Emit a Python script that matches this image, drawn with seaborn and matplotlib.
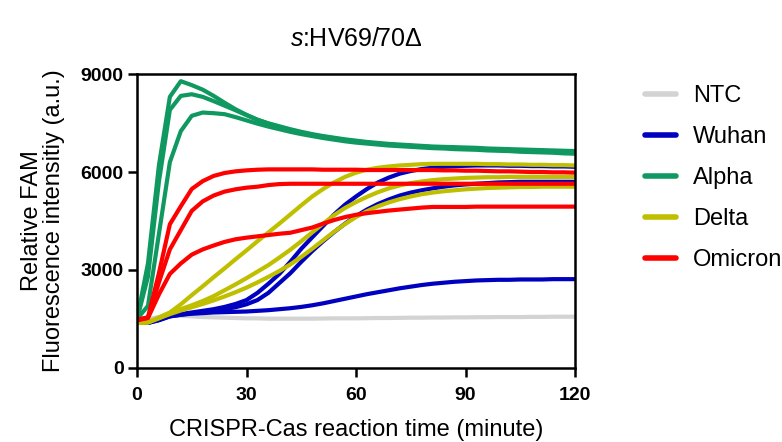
import numpy as np
import pandas as pd
import matplotlib
matplotlib.use("Agg")
import matplotlib.pyplot as plt
import seaborn as sns

# ---------------- data ----------------
time = list(range(0, 121, 3))

ntc = [1480, 1500, 1560, 1600, 1600, 1580, 1560, 1550, 1540, 1530, 1520, 1520, 1510, 1510,
       1510, 1510, 1510, 1515, 1520, 1520, 1520, 1525, 1530, 1530, 1535, 1540, 1540, 1545,
       1545, 1550, 1550, 1555, 1555, 1560, 1560, 1560, 1565, 1565, 1570, 1570, 1570]

wuhan_1 = [1450, 1400, 1480, 1600, 1650, 1700, 1750, 1800, 1870, 1960, 2080, 2300, 2580, 2880,
           3250, 3650, 4000, 4350, 4700, 5000, 5250, 5480, 5680, 5830, 5950, 6030, 6090, 6130,
           6160, 6180, 6190, 6200, 6200, 6200, 6190, 6190, 6180, 6180, 6170, 6170, 6160]
wuhan_2 = [1420, 1380, 1460, 1580, 1630, 1680, 1720, 1760, 1800, 1860, 1950, 2080, 2300, 2600,
           2900, 3250, 3580, 3880, 4160, 4420, 4650, 4850, 5020, 5160, 5280, 5370, 5440, 5500,
           5550, 5590, 5620, 5640, 5660, 5680, 5690, 5700, 5700, 5700, 5700, 5700, 5700]
wuhan_3 = [1430, 1380, 1470, 1580, 1630, 1660, 1680, 1700, 1710, 1720, 1730, 1750, 1770, 1800,
           1830, 1870, 1920, 1980, 2050, 2120, 2190, 2260, 2320, 2380, 2440, 2490, 2540, 2580,
           2610, 2640, 2660, 2680, 2690, 2700, 2700, 2710, 2710, 2710, 2720, 2720, 2720]

alpha_1 = [1500, 3200, 6200, 8300, 8780, 8660, 8520, 8330, 8120, 7920, 7750, 7600, 7490, 7400,
           7310, 7230, 7160, 7100, 7050, 7000, 6960, 6920, 6890, 6860, 6840, 6820, 6800, 6780,
           6770, 6760, 6750, 6740, 6720, 6710, 6700, 6690, 6680, 6670, 6660, 6650, 6640]
alpha_2 = [1480, 2800, 5700, 7900, 8330, 8380, 8300, 8170, 8030, 7890, 7740, 7600, 7480, 7380,
           7290, 7210, 7140, 7080, 7030, 6980, 6940, 6900, 6870, 6840, 6820, 6800, 6780, 6760,
           6750, 6740, 6720, 6710, 6690, 6680, 6670, 6660, 6650, 6640, 6630, 6610, 6600]
alpha_3 = [1500, 1900, 4100, 6300, 7250, 7720, 7820, 7800, 7770, 7680, 7580, 7480, 7390, 7310,
           7230, 7160, 7100, 7040, 6990, 6940, 6900, 6870, 6840, 6810, 6790, 6770, 6750, 6730,
           6720, 6700, 6690, 6680, 6660, 6650, 6640, 6620, 6610, 6600, 6590, 6570, 6560]

delta_1 = [1400, 1400, 1550, 1700, 1950, 2230, 2500, 2780, 3050, 3330, 3600, 3880, 4150, 4420,
           4700, 4980, 5250, 5480, 5680, 5850, 5980, 6070, 6130, 6170, 6200, 6220, 6240, 6250,
           6250, 6250, 6250, 6250, 6240, 6240, 6230, 6230, 6220, 6220, 6210, 6210, 6200]
delta_2 = [1380, 1400, 1530, 1670, 1800, 1920, 2050, 2200, 2380, 2560, 2750, 2950, 3150, 3380,
           3620, 3880, 4150, 4420, 4680, 4900, 5080, 5240, 5380, 5500, 5590, 5660, 5710, 5750,
           5780, 5800, 5820, 5830, 5840, 5840, 5850, 5850, 5850, 5850, 5850, 5850, 5850]
delta_3 = [1380, 1390, 1520, 1650, 1760, 1860, 1960, 2070, 2190, 2320, 2460, 2620, 2790, 2970,
           3170, 3400, 3650, 3910, 4170, 4410, 4620, 4800, 4950, 5070, 5170, 5250, 5320, 5370,
           5410, 5440, 5470, 5490, 5510, 5520, 5530, 5540, 5540, 5550, 5550, 5550, 5550]

omicron_1 = [1480, 1550, 2900, 4400, 4950, 5480, 5720, 5880, 5970, 6020, 6050, 6070, 6080, 6080,
             6080, 6080, 6080, 6070, 6070, 6070, 6070, 6060, 6060, 6060, 6060, 6060, 6060, 6060,
             6050, 6050, 6040, 6040, 6030, 6020, 6020, 6010, 6000, 6000, 5990, 5990, 5980]
omicron_2 = [1470, 1540, 2620, 3630, 4220, 4810, 5100, 5280, 5400, 5470, 5520, 5550, 5600, 5630,
             5640, 5640, 5640, 5640, 5640, 5640, 5640, 5640, 5640, 5640, 5640, 5640, 5640, 5640,
             5640, 5640, 5640, 5640, 5640, 5640, 5640, 5640, 5640, 5640, 5640, 5640, 5640]
omicron_3 = [1460, 1530, 2250, 2880, 3200, 3470, 3630, 3750, 3860, 3940, 3990, 4030, 4070, 4110,
             4140, 4220, 4300, 4420, 4530, 4620, 4690, 4740, 4780, 4820, 4850, 4880, 4910, 4930,
             4930, 4930, 4930, 4940, 4940, 4940, 4940, 4940, 4940, 4940, 4940, 4940, 4940]

groups = ["NTC", "Wuhan", "Alpha", "Delta", "Omicron"]
colors = ["#d3d3d3", "#0000c0", "#0f9960", "#bfbf00", "#ff0000"]

series = {
    "Wuhan": [wuhan_1, wuhan_2, wuhan_3],
    "Alpha": [alpha_1, alpha_2, alpha_3],
    "Delta": [delta_1, delta_2, delta_3],
    "Omicron": [omicron_1, omicron_2, omicron_3],
    "NTC": [ntc],
}

rows = []
for g, reps in series.items():
    for r, vals in enumerate(reps):
        for t, v in zip(time, vals):
            rows.append({"time": t, "value": v, "group": g, "rep": f"{g}{r}"})
df = pd.DataFrame(rows)

# ---------------- plotting ----------------
sns.set_style("white")
plt.rcParams["font.family"] = ["Liberation Sans", "DejaVu Sans"]
plt.rcParams["mathtext.fontset"] = "custom"
plt.rcParams["mathtext.it"] = "Liberation Sans:italic"
plt.rcParams["mathtext.rm"] = "Liberation Sans"
plt.rcParams["text.color"] = "black"
plt.rcParams["axes.labelcolor"] = "black"
plt.rcParams["xtick.color"] = "black"
plt.rcParams["ytick.color"] = "black"

fig = plt.figure(figsize=(7.82, 4.42), dpi=100)
ax = fig.add_axes([137 / 782, 1 - 368 / 442, (575 - 137) / 782, (368 - 74) / 442])

sns.lineplot(data=df, x="time", y="value", hue="group", units="rep", estimator=None,
             hue_order=groups, palette=colors, linewidth=3.0, ax=ax, legend=True,
             sort=False)

ax.set_xlim(0, 120)
ax.set_ylim(0, 9000)
ax.set_xticks([0, 30, 60, 90, 120])
ax.set_yticks([0, 3000, 6000, 9000])
for s in ax.spines.values():
    s.set_visible(True)
    s.set_color("black")
    s.set_linewidth(1.8)
ax.tick_params(axis="both", which="major", direction="out", length=6.5, width=1.8,
               colors="black", labelsize=14, pad=3, bottom=True, left=True)
ax.tick_params(axis="x", pad=7)
for lab in ax.get_xticklabels() + ax.get_yticklabels():
    lab.set_fontweight("bold")

ax.set_xlabel("CRISPR-Cas reaction time (minute)", fontsize=17, labelpad=11)
ax.set_ylabel("Relative FAM\nFluorescence intensitiy (a.u.)", fontsize=17, labelpad=11,
              linespacing=1.05)
ax.set_title(r"$\mathit{s}$:HV69/70Δ", fontsize=18, pad=20)

handles, labels = ax.get_legend_handles_labels()
for h in handles:
    h.set_linewidth(4)
leg = ax.legend(handles, labels, loc="upper left", bbox_to_anchor=(636 / 782, 1 - 76 / 442),
                bbox_transform=fig.transFigure, frameon=False, fontsize=17,
                handlelength=1.3, handletextpad=0.72, labelspacing=0.8, borderaxespad=0)

fig.savefig("out.png", dpi=100)
